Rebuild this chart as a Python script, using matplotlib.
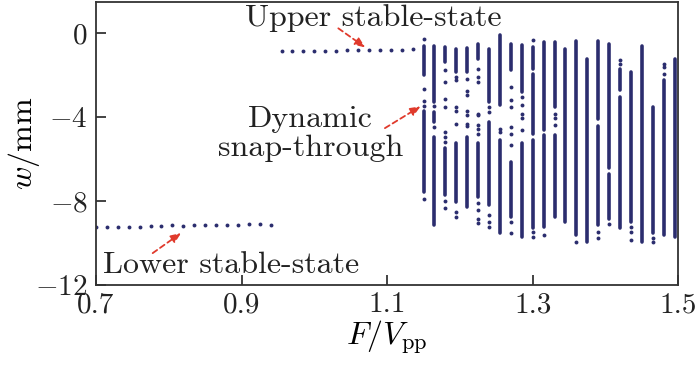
import numpy as np
import matplotlib
matplotlib.use("Agg")
from matplotlib import pyplot as plt

plt.rcParams["mathtext.fontset"] = "cm"
plt.rcParams["font.family"] = "cmr10"
plt.rcParams["axes.formatter.use_mathtext"] = True

DOT = "#2b2d6e"
ARROW = "#e03a2c"

# lower stable-state branch (periodic, one point per drive level)
lower_x = [0.700, 0.715, 0.730, 0.745, 0.760, 0.775, 0.790, 0.805, 0.820,
           0.835, 0.850, 0.865, 0.880, 0.895, 0.910, 0.925, 0.940]
lower_w = [-9.24, -9.24, -9.25, -9.25, -9.24, -9.18, -9.18, -9.16, -9.18,
           -9.16, -9.13, -9.14, -9.16, -9.13, -9.11, -9.08, -9.12]

# upper stable-state branch
upper_x = [0.955, 0.970, 0.985, 1.000, 1.015, 1.030, 1.045, 1.060, 1.075,
           1.090, 1.105, 1.120, 1.135]
upper_w = [-0.86, -0.86, -0.84, -0.84, -0.83, -0.83, -0.81, -0.81, -0.80,
           -0.81, -0.80, -0.78, -0.75]

# chaotic region: drive levels, dense bands (top, bottom) and isolated points
chaos_x = [1.150, 1.165, 1.180, 1.195, 1.210, 1.225, 1.240, 1.255,
           1.270, 1.285, 1.300, 1.315, 1.330, 1.345, 1.360, 1.375,
           1.390, 1.405, 1.420, 1.435, 1.450, 1.465, 1.480, 1.495]
chaos_bands = [
    [(-0.60, -2.00), (-3.71, -7.56)],
    [(-0.60, -3.27), (-3.75, -4.22), (-4.94, -9.14)],
    [(-0.65, -1.37), (-5.49, -7.71)],
    [(-0.76, -1.84), (-5.25, -8.03)],
    [(-0.70, -1.84), (-4.94, -8.27)],
    [(-0.49, -1.21), (-5.25, -7.79)],
    [(-0.73, -3.27), (-4.22, -8.19)],
    [(-0.10, -3.43), (-5.10, -9.54)],
    [(-0.49, -1.76), (-6.13, -8.75)],
    [(-0.57, -2.79), (-5.25, -9.70)],
    [(-0.65, -1.70), (-1.95, -4.80), (-5.10, -9.30)],
    [(-0.41, -4.60), (-4.85, -9.22)],
    [(-0.41, -3.51), (-4.86, -8.75)],
    [(-0.76, -8.98)],
    [(-0.35, -9.62)],
    [(-1.21, -9.94)],
    [(-0.38, -4.10), (-4.40, -9.14)],
    [(-0.49, -6.40), (-6.70, -8.83)],
    [(-1.68, -2.71), (-3.03, -9.30)],
    [(-1.84, -8.98)],
    [(-0.60, -9.94)],
    [(-3.51, -9.54)],
    [(-2.24, -9.62)],
    [(-1.21, -9.70)],
]
chaos_dots = [
    [-0.29, -2.67, -3.24, -3.48, -7.90],
    [-3.46, -4.46],
    [-1.76, -2.32, -3.11, -3.51, -4.70, -4.94, -5.20, -8.00, -8.35],
    [-2.08, -2.24, -3.51, -3.71, -4.30, -8.51, -8.75],
    [-2.16, -2.76, -2.95, -3.71, -3.90, -4.33, -4.41],
    [-1.70, -2.08, -2.32, -3.83, -3.91, -4.35, -4.54, -4.78, -8.10, -8.40, -8.83, -9.06],
    [-3.51, -3.75, -8.67, -8.98, -9.22],
    [-4.54, -4.70],
    [-2.56, -3.19, -3.51, -4.46, -4.78, -5.30, -8.98, -9.54],
    [-3.03, -3.43, -3.83, -4.06, -4.62],
    [-0.33, -9.46, -9.70],
    [-9.62],
    [-3.83, -4.06, -4.38],
    [],
    [-9.94],
    [],
    [-9.46, -9.78],
    [-9.11],
    [-1.29, -1.44],
    [-9.22, -9.46, -9.86],
    [],
    [-9.78, -9.97],
    [-1.44, -1.60, -1.92],
    [],
]

x_ticks = [0.7, 0.9, 1.1, 1.3, 1.5]
x_tick_labels = ["0.7", "0.9", "1.1", "1.3", "1.5"]
y_ticks = [0, -4, -8, -12]
y_tick_labels = [r"$0$", r"$-4$", r"$-8$", r"$-12$"]

fig = plt.figure(figsize=(7.0, 3.79), dpi=100)
ax = fig.add_axes([0.137, 0.248, 0.832, 0.747])

ax.plot(lower_x, lower_w, "o", color=DOT, ms=2.8, mec="none")
ax.plot(upper_x, upper_w, "o", color=DOT, ms=2.8, mec="none")

for x, bands, dots in zip(chaos_x, chaos_bands, chaos_dots):
    for top, bottom in bands:
        ax.vlines(x, bottom, top, color=DOT, lw=2.6, capstyle="round")
    if dots:
        ax.plot([x] * len(dots), dots, "o", color=DOT, ms=2.8, mec="none")

ax.set_xlim(0.7, 1.5)
ax.set_ylim(-12, 1.5)
ax.set_xticks(x_ticks)
ax.set_xticklabels(x_tick_labels)
ax.set_yticks(y_ticks)
ax.set_yticklabels(y_tick_labels)
ax.tick_params(direction="in", length=7, width=1.2, labelsize=21, pad=5, colors="#222222")
ax.tick_params(axis="y", pad=6)
for s in ax.spines.values():
    s.set_linewidth(1.3)
    s.set_color("#333333")

ax.set_xlabel(r"$F/V_{\mathrm{pp}}$", fontsize=23, labelpad=0)
ax.set_ylabel(r"$w/\mathrm{mm}$", fontsize=23)
ax.yaxis.set_label_coords(-0.092, 0.5)

# annotations
txt = dict(fontsize=23, color="#222222")
ax.text(0.905, 0.72, "Upper stable-state", ha="left", va="center", **txt)
ax.text(0.995, -4.8, "Dynamic\nsnap-through", ha="center", va="center",
        linespacing=1.08, **txt)
ax.text(0.71, -11.05, "Lower stable-state", ha="left", va="center", **txt)

arrow = dict(arrowstyle="-|>,head_length=0.6,head_width=0.25", color=ARROW,
             lw=1.3, linestyle=(0, (3, 2)), shrinkA=0, shrinkB=0)
ax.annotate("", xy=(1.07, -0.67), xytext=(1.033, 0.24), arrowprops=arrow)
ax.annotate("", xy=(1.146, -3.48), xytext=(1.097, -4.52), arrowprops=arrow)
ax.annotate("", xy=(0.817, -9.52), xytext=(0.778, -10.48), arrowprops=arrow)

fig.savefig("out.png", dpi=100)
